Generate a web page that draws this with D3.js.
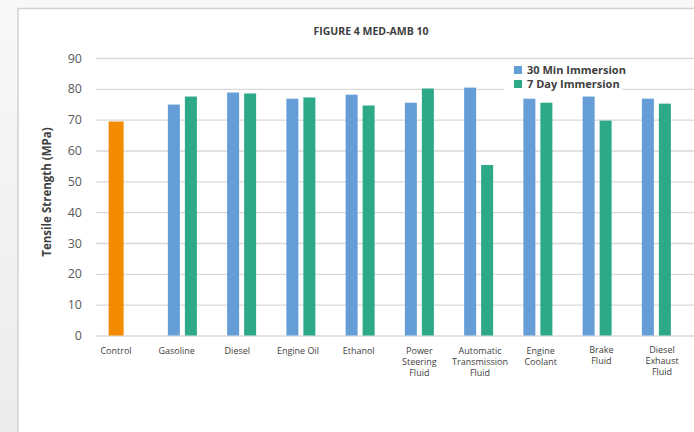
<!DOCTYPE html>
<html>
<head>
<meta charset="utf-8">
<script src="https://cdn.jsdelivr.net/npm/d3@7"></script>
<style>
  html, body { margin: 0; padding: 0; background: #f4f4f4; }
  svg { display: block; }
</style>
</head>
<body>
<svg id="chart" width="694" height="432"></svg>
<script>
const categories = ["Control", "Gasoline", "Diesel", "Engine Oil", "Ethanol",
  "Power Steering Fluid", "Automatic Transmission Fluid", "Engine Coolant", "Brake Fluid", "Diesel Exhaust Fluid"];
const categoryLines = [["Control"], ["Gasoline"], ["Diesel"], ["Engine Oil"], ["Ethanol"],
  ["Power", "Steering", "Fluid"], ["Automatic", "Transmission", "Fluid"], ["Engine", "Coolant"], ["Brake", "Fluid"], ["Diesel", "Exhaust", "Fluid"]];
const controlValue = 69.4;
const min30Values = [null, 74.9, 78.8, 76.8, 78.1, 75.5, 80.4, 76.8, 77.5, 76.8];
const day7Values  = [null, 77.5, 78.5, 77.2, 74.6, 80.1, 55.3, 75.5, 69.7, 75.2];
const seriesNames = ["30 Min Immersion", "7 Day Immersion"];
const seriesColors = ["#659ed6", "#2ea988"];
const controlColor = "#f28b00";
const yTicks = [0, 10, 20, 30, 40, 50, 60, 70, 80, 90];

const svg = d3.select("#chart");

// background & panel
const defs = svg.append("defs");
const grad = defs.append("linearGradient").attr("id", "leftGrad").attr("x1", 0).attr("y1", 0).attr("x2", 0).attr("y2", 1);
grad.append("stop").attr("offset", "0%").attr("stop-color", "#f8f8f8");
grad.append("stop").attr("offset", "100%").attr("stop-color", "#ececec");
svg.append("rect").attr("x", 0).attr("y", 0).attr("width", 694).attr("height", 432).attr("fill", "#f8f8f8");
svg.append("rect").attr("x", 0).attr("y", 0).attr("width", 18).attr("height", 432).attr("fill", "url(#leftGrad)");
svg.append("rect").attr("x", 18).attr("y", 8.5).attr("width", 700).attr("height", 440)
  .attr("fill", "#ffffff").attr("stroke", "#d2d2d2").attr("stroke-width", 1.5);

const y = d3.scaleLinear().domain([0, 90]).range([335.5, 58]);
const x = d3.scaleBand().domain(categories).range([93.5, 686]).padding(0);
const half = 14.5;
const inner = d3.scaleBand().domain(seriesNames)
  .range([x.bandwidth() / 2 - half, x.bandwidth() / 2 + half]).paddingInner(0.294);
const xLabel = d3.scalePoint().domain(categories).range([116, 662]);

// gridlines
const yAxis = d3.axisLeft(y).tickValues(yTicks).tickSize(-(694 - 96)).tickPadding(14);
const gAxis = svg.append("g").attr("transform", "translate(96,0)").call(yAxis);
gAxis.select(".domain").remove();
gAxis.selectAll(".tick line").attr("stroke", "#d9d9d9").attr("stroke-width", 1.3);
gAxis.selectAll(".tick text").attr("fill", "#595959")
  .attr("font-family", "'Open Sans', sans-serif").attr("font-size", 12.5);

// title
svg.append("text").attr("x", 371).attr("y", 35).attr("text-anchor", "middle")
  .attr("font-family", "'Open Sans', sans-serif").attr("font-weight", 700)
  .attr("font-size", 10.5).attr("fill", "#404040").text("FIGURE 4 MED-AMB 10");

// y label
svg.append("text").attr("transform", "translate(51,192) rotate(-90)").attr("text-anchor", "middle")
  .attr("font-family", "'Open Sans', sans-serif").attr("font-weight", 700)
  .attr("font-size", 11.5).attr("fill", "#404040").text("Tensile Strength (MPa)");

// bars
const groups = svg.append("g").selectAll("g").data(categories).join("g")
  .attr("transform", d => `translate(${x(d)},0)`);

// control bar
svg.append("rect")
  .attr("x", x("Control") + inner(seriesNames[0]))
  .attr("y", y(controlValue))
  .attr("width", inner.bandwidth() + 3)
  .attr("height", y(0) - y(controlValue))
  .attr("fill", controlColor);

const seriesData = [min30Values, day7Values];
seriesData.forEach((vals, si) => {
  groups.filter((d, i) => vals[i] != null).append("rect")
    .attr("x", inner(seriesNames[si]))
    .attr("y", (d) => y(vals[categories.indexOf(d)]))
    .attr("width", inner.bandwidth())
    .attr("height", (d) => y(0) - y(vals[categories.indexOf(d)]))
    .attr("fill", seriesColors[si]);
});

// category labels
categories.forEach((c, i) => {
  const t = svg.append("text").attr("text-anchor", "middle")
    .attr("font-family", "'Open Sans', sans-serif").attr("font-size", 9)
    .attr("fill", "#404040");
  const lift = (c === "Brake Fluid" || c === "Diesel Exhaust Fluid") ? -1 : 0;
  categoryLines[i].forEach((ln, j) => {
    t.append("tspan").attr("x", xLabel(c)).attr("y", 354 + lift + j * 11.2).text(ln);
  });
});

// legend
const lg = svg.append("g");
lg.append("rect").attr("x", 504).attr("y", 60).attr("width", 118).attr("height", 33).attr("fill", "#ffffff");
seriesNames.forEach((s, i) => {
  lg.append("rect").attr("x", 514).attr("y", 66 + i * 14).attr("width", 8).attr("height", 8).attr("fill", seriesColors[i]);
  lg.append("text").attr("x", 527).attr("y", 74 + i * 14)
    .attr("font-family", "'Open Sans', sans-serif").attr("font-weight", 700)
    .attr("font-size", 11).attr("fill", "#404040").text(s);
});
</script>
</body>
</html>
